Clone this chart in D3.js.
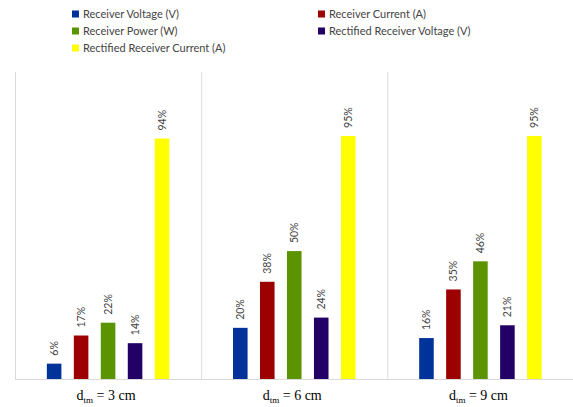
<!DOCTYPE html>
<html>
<head>
<meta charset="utf-8">
<script src="https://cdn.jsdelivr.net/npm/d3@7"></script>
<style>
  body { margin: 0; background: #fff; }
  svg { display: block; }
</style>
</head>
<body>
<svg id="chart" width="573" height="407"></svg>
<script>
'use strict'

// distances, one group each
const categories = ['3', '6', '9']
const seriesNames = [
  'Receiver Voltage (V)',
  'Receiver Current (A)',
  'Receiver Power (W)',
  'Rectified Receiver Voltage (V)',
  'Rectified Receiver Current (A)'
]
const seriesColors = ['#003399', '#9c0000', '#5b9400', '#230066', '#ffff00']
// percentages, one row per series, one value per category
const receiverVoltage = [6, 20, 16]
const receiverCurrent = [17, 38, 35]
const receiverPower = [22, 50, 46]
const rectifiedVoltage = [14, 24, 21]
const rectifiedCurrent = [94, 95, 95]
const values = [receiverVoltage, receiverCurrent, receiverPower, rectifiedVoltage, rectifiedCurrent]

const svg = d3.select('#chart')
const plotLeft = 15, plotRight = 573.5, plotTop = 72, plotBottom = 379

const x0 = d3.scaleBand().domain(categories).range([plotLeft, plotRight])
const x1 = d3.scaleBand().domain(d3.range(seriesNames.length))
  .range([0, x0.bandwidth()]).paddingInner(0.46).paddingOuter(1.18)
const y = d3.scaleLinear().domain([0, 120]).range([plotBottom, plotTop])

// vertical dividers between categories
svg.append('g').selectAll('line')
  .data(categories)
  .enter().append('line')
  .attr('x1', (c) => x0(c) + 0.5).attr('x2', (c) => x0(c) + 0.5)
  .attr('y1', plotTop).attr('y2', plotBottom)
  .attr('stroke', '#d9d9d9').attr('stroke-width', 1)

const groups = svg.append('g').selectAll('g.group')
  .data(categories)
  .enter().append('g')
  .attr('class', 'group')
  .attr('transform', (c) => `translate(${x0(c)},0)`)

const bars = groups.selectAll('g.bar')
  .data((c, ci) => values.map((s, si) => ({ si: si, v: s[ci] })))
  .enter().append('g')
  .attr('class', 'bar')

bars.append('rect')
  .attr('x', (d) => x1(d.si))
  .attr('width', x1.bandwidth())
  .attr('y', (d) => y(d.v))
  .attr('height', (d) => plotBottom - y(d.v))
  .attr('fill', (d) => seriesColors[d.si])

bars.append('text')
  .attr('transform', (d) => `translate(${x1(d.si) + x1.bandwidth() / 2 + 3.5},${y(d.v) - 8}) rotate(-90)`)
  .attr('font-family', 'Lato, sans-serif')
  .attr('font-size', '10.5px')
  .attr('fill', '#444')
  .text((d) => d.v + '%')

// baseline
svg.append('line')
  .attr('x1', plotLeft).attr('x2', plotRight)
  .attr('y1', plotBottom + 0.5).attr('y2', plotBottom + 0.5)
  .attr('stroke', '#d9d9d9')

// category labels
const catLabels = svg.append('g').selectAll('text')
  .data(categories)
  .enter().append('text')
  .attr('x', (c) => x0(c) + x0.bandwidth() / 2 - 2)
  .attr('y', 400)
  .attr('text-anchor', 'middle')
  .attr('font-family', '"Liberation Serif", "Times New Roman", serif')
  .attr('font-size', '14px')
  .attr('fill', '#000')
catLabels.append('tspan').text('d')
catLabels.append('tspan').attr('font-size', '9px').attr('dy', 3).text('tm')
catLabels.append('tspan').attr('dy', -3).text((c) => ` = ${c} cm`)

// legend
const legendPos = [[72, 14], [318, 14], [72, 31], [318, 31], [72, 48]]
const legend = svg.append('g').selectAll('g.item')
  .data(seriesNames)
  .enter().append('g')
  .attr('class', 'item')
  .attr('transform', (n, i) => `translate(${legendPos[i][0]},${legendPos[i][1]})`)
legend.append('rect')
  .attr('x', 0).attr('y', -3.5).attr('width', 7).attr('height', 7)
  .attr('fill', (n, i) => seriesColors[i])
legend.append('text')
  .attr('x', 11).attr('y', 4)
  .attr('font-family', 'Lato, sans-serif')
  .attr('font-size', '11px')
  .attr('fill', '#444')
  .text((n) => n)
</script>
</body>
</html>
